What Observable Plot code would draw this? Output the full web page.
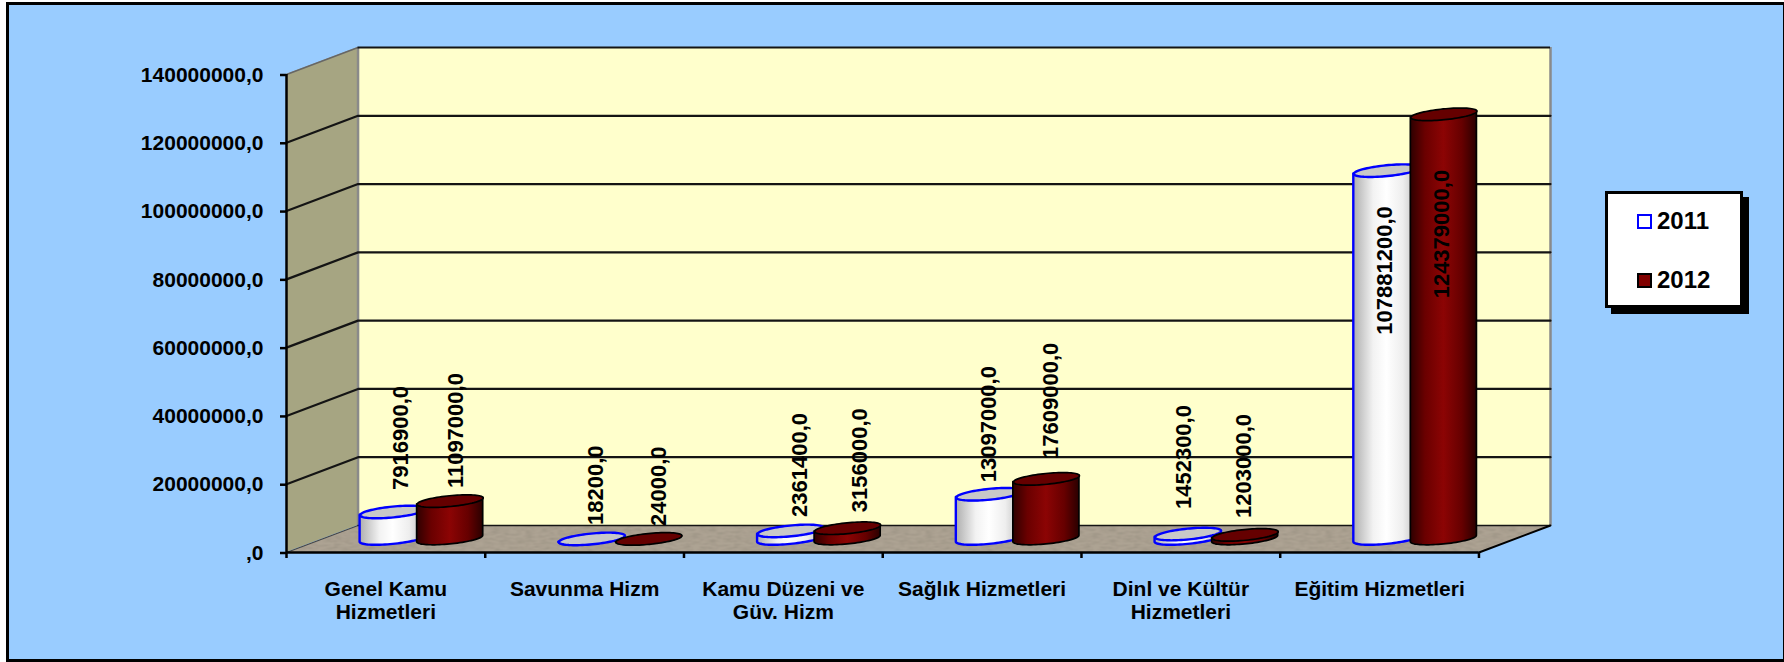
<!DOCTYPE html>
<html lang="tr">
<head>
<meta charset="utf-8">
<title>Chart</title>
<script src="https://cdn.jsdelivr.net/npm/d3@7"></script>
<script src="https://cdn.jsdelivr.net/npm/@observablehq/plot@0.6"></script>
<style>
  html, body { margin: 0; padding: 0; background: #fff; width: 1784px; height: 662px; overflow: hidden; }
  body { position: relative; font-family: "Liberation Sans", Arial, sans-serif; }
  #frame { position: absolute; left: 6px; top: 2px; width: 1778px; height: 660px; box-sizing: border-box;
           background: #99CCFF; border: 3px solid #000; border-right-width: 1px; }
  #chart { position: absolute; left: 0; top: 0; }
  #legend { position: absolute; left: 1605px; top: 191px; width: 138px; height: 117px; box-sizing: border-box;
            background: #fff; border: 3px solid #000; box-shadow: 6px 6px 0 #000; font-weight: bold; font-size: 24px; color: #000; }
  #legend .row { position: absolute; left: 29px; display: flex; align-items: center; gap: 5px; line-height: 24px; }
  #legend .key { width: 15px; height: 15px; box-sizing: border-box; display: inline-block; }
</style>
</head>
<body>
<div id="frame"></div>
<div id="chart"></div>
<div id="legend">
  <div class="row" style="top:15px"><span class="key" style="background:#fff;border:2.5px solid #0000FF"></span><span id="l0"></span></div>
  <div class="row" style="top:74px"><span class="key" style="background:#800000;border:2.5px solid #000"></span><span id="l1"></span></div>
</div>
<script>
// ---- values ----
const categories = ["Genel Kamu\nHizmetleri", "Savunma Hizm", "Kamu Düzeni ve\nGüv. Hizm", "Sağlık Hizmetleri", "Dinl ve Kültür\nHizmetleri", "Eğitim Hizmetleri"];
const seriesNames = ["2011", "2012"];
const values2011 = [7916900, 18200, 2361400, 13097000, 1452300, 107881200];
const values2012 = [11097000, 24000, 3156000, 17609000, 1203000, 124379000];
const yTicks = [0, 20000000, 40000000, 60000000, 80000000, 100000000, 120000000, 140000000];

// ---- hand-placed data-label offsets in the original (pixels from cylinder top centre) ----
const labelDx2011 = [8, 4, 9, 0, -4, -2];
const labelDy2011 = [-22, -14, -14, -12, -25, 164];
const labelDx2012 = [6, 10, 12, 5, -1, -2];
const labelDy2012 = [-13, -13, -16, -20, -17, 184];

// ---- oblique projection, expressed in scale units ----
const n = categories.length;
const depthX = 0.36;        // floor depth, in categories
const depthY = 7908000;     // floor depth, in value units
const yMax = yTicks[yTicks.length - 1];
const radiusX = 0.1435, tilt = 0.233, spread = 0.1435;
const t0 = Math.atan2(tilt * depthX, radiusX);
const ARC = 40;

const ex = (cx, t) => cx + radiusX * Math.cos(t) + tilt * depthX * Math.sin(t);
const ey = (cy, t) => cy + tilt * depthY * Math.sin(t);

function sideRows(cx, v) {
  return d3.range(ARC + 1).map(j => {
    const t = t0 - Math.PI + Math.PI * j / ARC;
    return {x: ex(cx, t), lo: ey(depthY / 2, t), hi: ey(depthY / 2 + v, t)};
  });
}
function topRows(cx, v) {
  return d3.range(2 * ARC + 1).map(j => {
    const t = 2 * Math.PI * j / (2 * ARC);
    return {x: ex(cx, t), y: ey(depthY / 2 + v, t)};
  });
}
function fmt(v) { return (v === 0 ? "" : String(v)) + ",0"; }

const defs = () => {
  const d = d3.create("svg:defs");
  const grad = (id, stops) => {
    const g = d.append("linearGradient").attr("id", id).attr("x1", 0).attr("x2", 1).attr("y1", 0).attr("y2", 0);
    stops.forEach(([o, c]) => g.append("stop").attr("offset", o).attr("stop-color", c));
  };
  grad("g2011", [[0, "#aeaeae"], [0.3, "#f2f2f2"], [0.5, "#ffffff"], [0.75, "#eeeeee"], [1, "#b8b8b8"]]);
  grad("g2012", [[0, "#2e0000"], [0.22, "#6a0000"], [0.5, "#8c0404"], [0.78, "#660000"], [1, "#2a0000"]]);
  // mottled floor texture
  const f = d.append("filter").attr("id", "mottle").attr("x", 0).attr("y", 0).attr("width", 1).attr("height", 1);
  f.append("feTurbulence").attr("type", "fractalNoise").attr("baseFrequency", "0.12 0.45").attr("numOctaves", 2).attr("seed", 4).attr("result", "n");
  f.append("feColorMatrix").attr("in", "n").attr("type", "matrix")
    .attr("values", "0 0 0 0 0.28  0 0 0 0 0.25  0 0 0 0 0.2  1.1 0 0 0 -0.38").attr("result", "c");
  f.append("feMerge").call(m => { m.append("feMergeNode").attr("in", "SourceGraphic"); m.append("feMergeNode").attr("in", "c"); });
  const p = d.append("pattern").attr("id", "floorTex").attr("patternUnits", "userSpaceOnUse").attr("width", 400).attr("height", 120);
  p.append("rect").attr("width", 400).attr("height", 120).attr("fill", "#ADA393").attr("filter", "url(#mottle)");
  return d.node();
};

function cylinder(cx, v, series) {
  const light = series === 0;
  const stroke = light ? "#0000FF" : "#000";
  const sw = light ? 2.4 : 1.7;
  return [
    Plot.area(sideRows(cx, v), {x1: "x", y1: "lo", y2: "hi", fill: light ? "url(#g2011)" : "url(#g2012)", stroke, strokeWidth: sw, strokeLinejoin: "round"}),
    Plot.line(topRows(cx, v), {x: "x", y: "y", fill: light ? "#C8C8C8" : "#650000", stroke, strokeWidth: sw})
  ];
}

const cylinders = [];
const labels = [];
categories.forEach((c, i) => {
  [[values2011, labelDx2011, labelDy2011], [values2012, labelDx2012, labelDy2012]].forEach(([vals, dxs, dys], s) => {
    const cx = i + 0.5 + (s === 0 ? -spread : spread) + depthX / 2;
    cylinders.push(...cylinder(cx, vals[i], s));
    labels.push(Plot.text([vals[i]], {
      x: () => cx, y: d => d + depthY / 2, text: d => fmt(d),
      rotate: -90, textAnchor: "start", lineAnchor: "middle",
      dx: dxs[i], dy: dys[i], fontSize: 22, fontWeight: "bold", fill: "#000"
    }));
  });
});

const floor = [{x: 0, y: 0}, {x: n, y: 0}, {x: n + depthX, y: depthY}, {x: depthX, y: depthY}];
const sideWall = [{x: 0, lo: 0, hi: yMax}, {x: depthX, lo: depthY, hi: yMax + depthY}];
const grid = yTicks.slice(1, -1).flatMap(v => [
  {v, x: 0, y: v}, {v, x: depthX, y: v + depthY}, {v, x: n + depthX, y: v + depthY}
]);

const plot = Plot.plot({
  width: 1784, height: 662,
  marginLeft: 286, marginRight: 234, marginTop: 47, marginBottom: 110,
  style: {background: "transparent", fontFamily: "'Liberation Sans', Arial, sans-serif", color: "#000"},
  x: {type: "linear", domain: [0, n + depthX], range: [286, 1550]},
  y: {type: "linear", domain: [0, yMax + depthY], range: [552, 47]},
  marks: [
    defs,
    // walls and floor
    Plot.rect([0], {x1: depthX, x2: n + depthX, y1: depthY, y2: yMax + depthY, fill: "#FFFFCC"}),
    Plot.area(sideWall, {x1: "x", y1: "lo", y2: "hi", fill: "#A6A582"}),
    Plot.line(floor, {x: "x", y: "y", fill: "url(#floorTex)"}),
    // wall edges
    Plot.ruleX([depthX, n + depthX], {y1: depthY, y2: yMax + depthY, stroke: "#8a8a8a", strokeWidth: 2.5}),
    Plot.line(sideWall, {x: "x", y: "lo", stroke: "#444", strokeWidth: 1.2}),
    Plot.line(sideWall, {x: "x", y: "hi", stroke: "#666", strokeWidth: 1.5}),
    // grid
    Plot.line(grid, {x: "x", y: "y", z: "v", stroke: "#141414", strokeWidth: 2.2}),
    Plot.ruleY([yMax + depthY], {x1: depthX, x2: n + depthX, stroke: "#141414", strokeWidth: 2.2}),
    Plot.ruleY([depthY], {x1: depthX, x2: n + depthX, stroke: "#141414", strokeWidth: 1.5}),
    // axes
    Plot.axisY({ticks: yTicks, tickFormat: fmt, tickSize: 6, tickPadding: 17, fontSize: 21, fontWeight: "bold", label: null, strokeWidth: 2.5, dy: 0.5}),
    Plot.axisX({ticks: d3.range(n + 1), tickFormat: () => "", tickSize: 6, label: null, strokeWidth: 2.5}),
    Plot.ruleX([0], {y1: 0, y2: yMax, stroke: "#000", strokeWidth: 2.5}),
    Plot.ruleY([0], {x1: 0, x2: n, stroke: "#000", strokeWidth: 2.5}),
    Plot.line([{x: n, y: 0}, {x: n + depthX, y: depthY}], {x: "x", y: "y", stroke: "#000", strokeWidth: 2}),
    // category labels
    Plot.text(categories, {x: (d, i) => i + 0.5, y: () => 0, text: d => d, lineAnchor: "top", dy: 26, fontSize: 21, fontWeight: "bold", lineHeight: 1.14, fill: "#000"}),
    // cylinders and data labels
    ...cylinders,
    ...labels
  ]
});
document.getElementById("chart").appendChild(plot);
document.getElementById("l0").textContent = seriesNames[0];
document.getElementById("l1").textContent = seriesNames[1];
</script>
</body>
</html>
